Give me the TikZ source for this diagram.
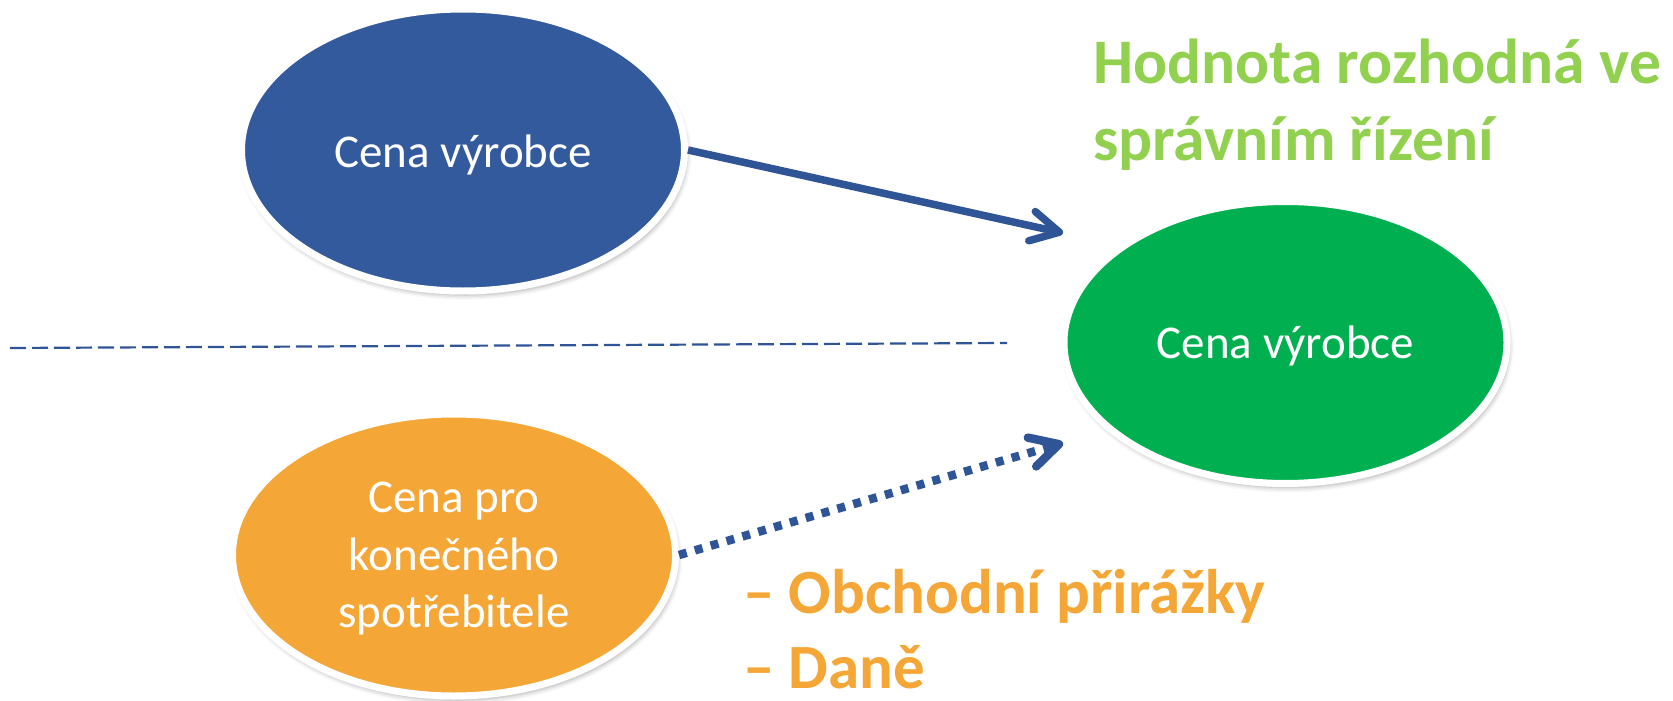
\documentclass[tikz,border=0pt]{standalone}
\usepackage{fontspec}
\setmainfont{Carlito}
\usetikzlibrary{shapes.geometric,arrows.meta,shadows.blur}
\definecolor{blueF}{HTML}{335A9C}
\definecolor{greenF}{HTML}{00B050}
\definecolor{orangeF}{HTML}{F4A637}
\definecolor{titleG}{HTML}{92D050}
\definecolor{arrowB}{HTML}{2F5597}
\tikzset{
  oval/.style={ellipse, draw=white, line width=7pt, minimum width=443pt,
    minimum height=282pt, inner sep=0pt, text=white,
    font=\fontsize{47}{57.5}\selectfont, align=center,
    blur shadow={shadow xshift=2pt, shadow yshift=-4pt, shadow blur radius=5pt, shadow opacity=35}},
  conn/.style={draw=arrowB, line width=7.5pt, -{Straight Barb[length=28pt,width=30pt,round]}},
  dotconn/.style={conn, line width=8.5pt, dash pattern=on 8pt off 8.5pt},
  divider/.style={draw=arrowB, line width=2.2pt, dash pattern=on 16pt off 6pt},
  titletext/.style={inner sep=0pt, text=titleG, align=left,
    font=\bfseries\fontsize{63.5}{77}\selectfont},
  minustext/.style={inner sep=0pt, text=orangeF, align=left,
    font=\bfseries\fontsize{63}{75}\selectfont}
}
\begin{document}
\begin{tikzpicture}[x=1pt,y=-1pt]
\useasboundingbox (0,0) rectangle (1673,701);
\node[oval, fill=blueF, text height=34pt, text depth=0pt] (vyr) at (463,150) {Cena výrobce};
\node[oval, fill=greenF, text height=34pt, text depth=2pt] (hod) at (1285.5,342.5) {Cena výrobce};
\node[oval, fill=orangeF, text depth=0pt] (kon) at (454,555) {Cena pro\\konečného\\spotřebitele};
\coordinate (d1) at (10,348);
\coordinate (d2) at (1007,343);
\draw[divider] (d1) -- (d2);
\coordinate (t1) at (1063,233);
\coordinate (t2) at (1063,443);
\draw[conn] (vyr.east) -- (t1);
\draw[dotconn] (kon.east) -- (t2);
\node[titletext, anchor=base west] (ttl) at (1093,160) {Hodnota rozhodná ve\\správním řízení};
\node[minustext, anchor=base west] (mns) at (743,688) {– Obchodní přirážky\\– Daně};
\end{tikzpicture}
\end{document}
